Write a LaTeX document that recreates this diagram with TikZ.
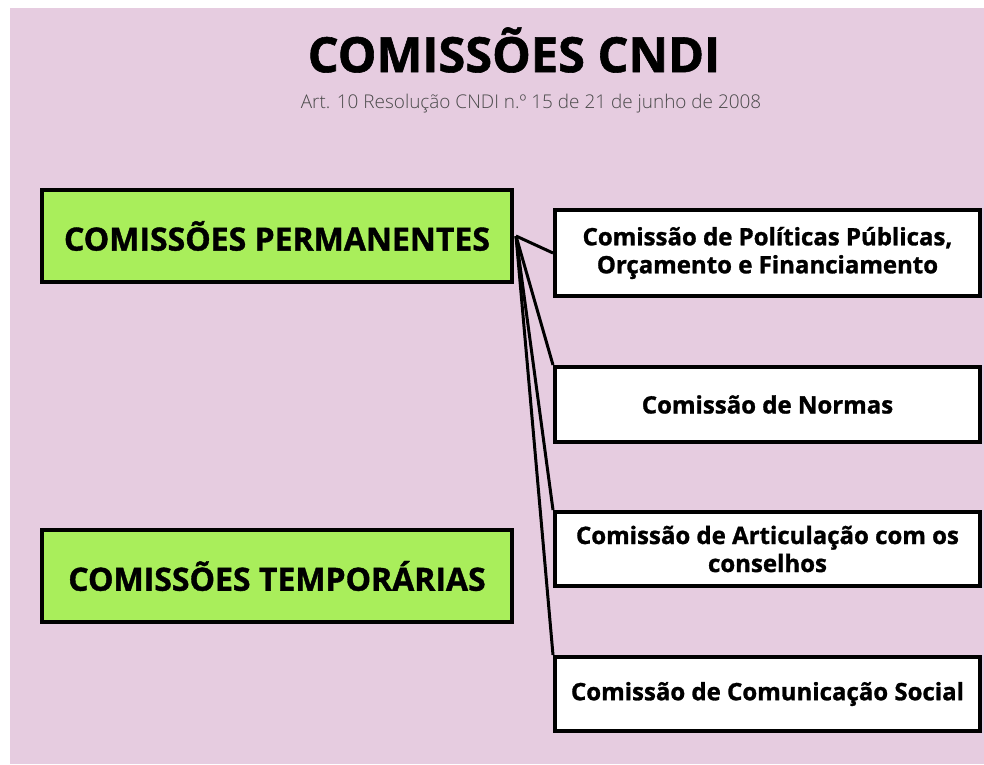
\documentclass[tikz,border=0pt]{standalone}
\usepackage{fontspec}
\setmainfont{Open Sans}
\newfontfamily\heavyfont{Open Sans}[BoldFeatures={FakeBold=1.2}]
\IfFontExistsTF{Open Sans Light}
  {\newfontfamily\lightfont{Open Sans Light}}
  {\let\lightfont\relax}
\usetikzlibrary{positioning}
\definecolor{bgpink}{HTML}{E6CCE0}
\definecolor{boxgreen}{HTML}{A9EE5B}
\definecolor{subgray}{HTML}{4A4A4A}
\tikzset{
  groupbox/.style={draw=black, line width=3pt, fill=boxgreen, minimum width=352.5pt,
    minimum height=69pt, font=\heavyfont\bfseries\fontsize{24}{28}\selectfont},
  itembox/.style={draw=black, line width=3pt, fill=white, minimum width=318.75pt,
    align=center, font=\heavyfont\bfseries\fontsize{18}{21}\selectfont},
  link/.style={line width=2.25pt}
}
\begin{document}
\begin{tikzpicture}[x=0.75pt,y=-0.75pt]
  \useasboundingbox (0,0) rectangle (984,764);
  \fill[bgpink] (10,8) rectangle (984,764);

  \node (title) at (514,50) {\heavyfont\bfseries\fontsize{36.5}{40}\selectfont COMISSÕES CNDI};
  \node[text=subgray, font=\lightfont\fontsize{14.2}{17}\selectfont] (sub) at (531,104)
    {Art. 10 Resolução CNDI n.º 15 de 21 de junho de 2008};

  \node[groupbox] (perm) at (277,236) {COMISSÕES PERMANENTES};
  \node[groupbox] (temp) at (277,576) {COMISSÕES TEMPORÁRIAS};

  \node[itembox, minimum height=64.5pt] (pol) at (767.5,253)
    {Comissão de Políticas Públicas,\\Orçamento e Financiamento};
  \node[itembox, minimum height=56.25pt] (norm) at (767.5,404.5) {Comissão de Normas};
  \node[itembox, minimum height=55.5pt] (art) at (767.5,549)
    {Comissão de Articulação com os\\conselhos};
  \node[itembox, minimum height=55.5pt] (com) at (767.5,694) {Comissão de Comunicação Social};

  \coordinate (hub) at (516,236);
  \draw[link] (hub) -- (pol.west);
  \draw[link] (hub) -- (norm.north west);
  \draw[link] (hub) -- (art.north west);
  \draw[link] (hub) -- (com.north west);
\end{tikzpicture}
\end{document}
